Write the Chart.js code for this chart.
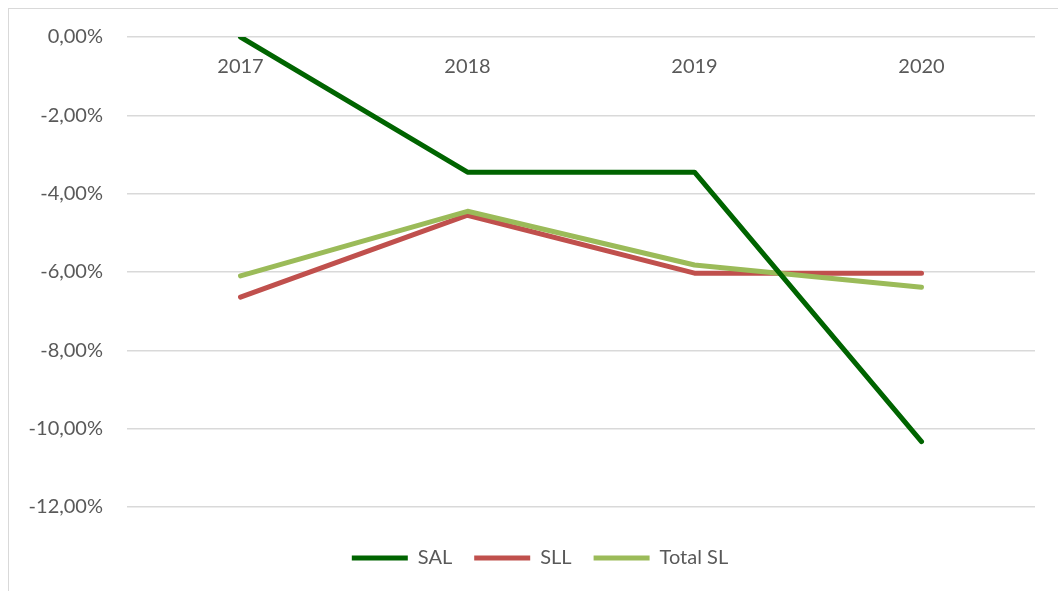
<!DOCTYPE html>
<html>
<head>
<meta charset="utf-8">
<script src="https://cdn.jsdelivr.net/npm/chart.js@4"></script>
<style>
  html, body { margin: 0; padding: 0; background: #fff; }
  #frame {
    position: absolute; left: 8px; top: 8px; right: 0; bottom: 0;
    border-left: 1px solid #d9d9d9; border-top: 1px solid #d9d9d9;
  }
  #wrap { position: absolute; left: 0; top: 0; width: 1058px; height: 591px; }
</style>
</head>
<body>
<div id="frame"></div>
<div id="wrap"><canvas id="chart"></canvas></div>
<script>
const years   = ["2017", "2018", "2019", "2020"];
const sal     = [0, -3.45, -3.45, -10.33];
const sll     = [-6.64, -4.55, -6.03, -6.03];
const totalSl = [-6.10, -4.45, -5.82, -6.39];
const yTicks  = [0, -2, -4, -6, -8, -10, -12];

const textColor = "#595959";
const gridColor = "#d9d9d9";
const font = { family: "Lato, 'Open Sans', sans-serif", size: 20 };

function pct(v) {
  return v.toFixed(2).replace(".", ",") + "%";
}

function line(label, data, color, order) {
  return {
    label, data, order,
    borderColor: color,
    backgroundColor: color,
    borderWidth: 5,
    borderCapStyle: "round",
    borderJoinStyle: "round",
    pointRadius: 0,
    tension: 0,
    fill: false,
  };
}

// legend in the original sits a bit right of the canvas centre
const legendShift = {
  id: "legendShift",
  afterLayout(chart) {
    if (chart.legend) chart.legend.left = 45;
  },
};

new Chart(document.getElementById("chart"), {
  type: "line",
  data: {
    labels: years,
    datasets: [
      line("SAL", sal, "#006400", 0),
      line("SLL", sll, "#c0504d", 2),
      line("Total SL", totalSl, "#9bbb59", 1),
    ],
  },
  plugins: [legendShift],
  options: {
    responsive: true,
    maintainAspectRatio: false,
    animation: false,
    layout: { padding: { top: 37, left: 0, right: 23, bottom: 13 } },
    plugins: {
      tooltip: { enabled: false },
      legend: {
        position: "bottom",
        title: { display: true, text: "", font: { size: 10 }, padding: { top: 7, bottom: 0 } },
        labels: {
          color: textColor,
          font,
          padding: 22,
          usePointStyle: true,
          pointStyle: "line",
          pointStyleWidth: 56,
          sort: (a, b) => a.datasetIndex - b.datasetIndex,
        },
      },
    },
    scales: {
      x: {
        type: "category",
        position: { y: 0 },
        offset: true,
        border: { display: false },
        grid: { display: true, drawOnChartArea: false, tickColor: "transparent", tickLength: 18 },
        ticks: { color: textColor, font, padding: 0, maxRotation: 0 },
      },
      y: {
        min: -12,
        max: 0,
        afterBuildTicks: s => { s.ticks = yTicks.map(v => ({ value: v })); },
        afterFit: s => { s.width = 127; },
        border: { display: false },
        grid: { color: gridColor, lineWidth: 1.5, drawTicks: false },
        ticks: { color: textColor, font, padding: 24, callback: v => pct(v) },
      },
    },
  },
});
</script>
</body>
</html>
